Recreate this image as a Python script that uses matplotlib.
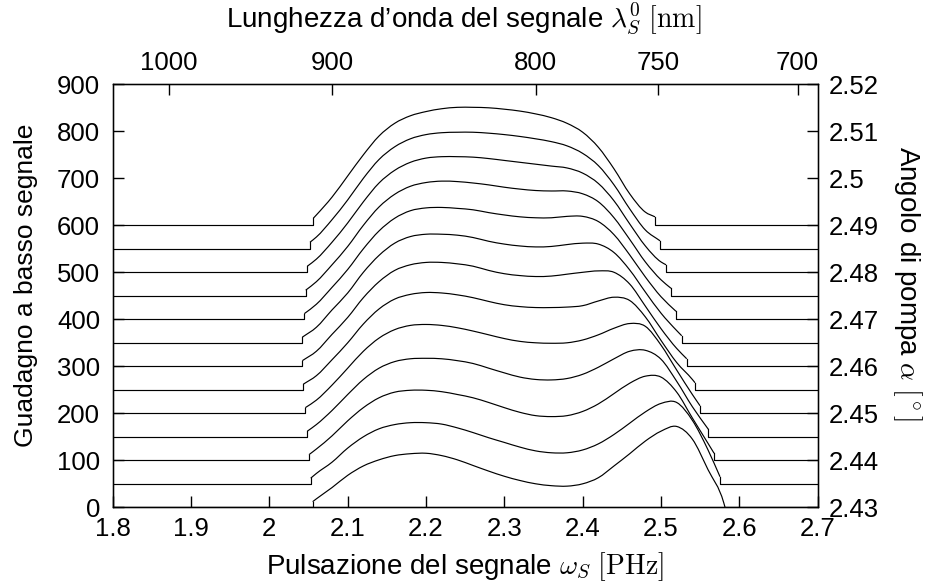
import numpy as np
import matplotlib
matplotlib.use("Agg")
import matplotlib.pyplot as plt
from matplotlib.path import Path
from matplotlib.patches import PathPatch

plt.rcParams['font.family'] = ['Liberation Sans', 'DejaVu Sans']
plt.rcParams['mathtext.fontset'] = 'cm'

nan = np.nan

# signal angular frequency grid [PHz]
omega_grid = [2.06, 2.08, 2.10, 2.12, 2.14, 2.16, 2.18, 2.20, 2.22, 2.24,
              2.26, 2.28, 2.30, 2.32, 2.34, 2.36, 2.38, 2.40, 2.42, 2.44,
              2.46, 2.48, 2.50, 2.52, 2.54, 2.56, 2.58]

# pump angles (deg) -> each curve is drawn shifted by its offset
pump_angle = [2.430, 2.435, 2.440, 2.445, 2.450, 2.455, 2.460,
              2.465, 2.470, 2.475, 2.480, 2.485, 2.490]
offsets = [0, 50, 100, 150, 200, 250, 300, 350, 400, 450, 500, 550, 600]

# small-signal gain above each curve's baseline, read on omega_grid
gain_00 = [18, 42, 68, 88, 101, 110, 114, 115, 110, 101, 89, 77, 66, 57, 50, 46, 45, 50, 63, 88, 114, 141, 162, 172, 145, 80, 10]
gain_01 = [22, 46, 76, 100, 117, 126, 130, 130, 127, 119, 109, 98, 88, 78, 70, 66, 66, 72, 85, 105, 129, 153, 171, 173, 135, 72, nan]
gain_02 = [24, 52, 84, 112, 133, 145, 149, 149, 146, 140, 133, 123, 112, 102, 95, 93, 95, 104, 120, 142, 164, 179, 177, 145, 90, 36, nan]
gain_03 = [26, 56, 90, 122, 146, 160, 166, 167, 166, 162, 156, 146, 136, 127, 122, 121, 124, 133, 148, 166, 182, 184, 165, 118, 64, nan, nan]
gain_04 = [28, 60, 96, 132, 160, 178, 187, 189, 187, 182, 175, 167, 159, 153, 150, 149, 150, 156, 167, 181, 191, 185, 145, 92, 40, nan, nan]
gain_05 = [30, 64, 100, 140, 172, 193, 203, 207, 206, 202, 196, 188, 181, 177, 175, 175, 176, 179, 189, 197, 190, 155, 105, 58, 22, nan, nan]
gain_06 = [32, 68, 104, 146, 180, 204, 216, 221, 221, 218, 213, 204, 197, 193, 191, 192, 196, 200, 203, 200, 175, 128, 80, 38, nan, nan, nan]
gain_07 = [33, 70, 106, 150, 186, 212, 226, 231, 231, 229, 224, 216, 210, 206, 204, 205, 209, 212, 210, 192, 155, 108, 63, 26, nan, nan, nan]
gain_08 = [32, 68, 106, 150, 188, 215, 231, 237, 238, 236, 233, 227, 222, 218, 216, 216, 219, 219, 208, 180, 137, 90, 48, nan, nan, nan, nan]
gain_09 = [30, 66, 105, 150, 189, 216, 233, 241, 244, 243, 240, 236, 231, 227, 224, 223, 223, 217, 200, 166, 120, 72, 34, nan, nan, nan, nan]
gain_10 = [28, 64, 105, 150, 190, 217, 234, 243, 246, 246, 245, 242, 238, 234, 230, 226, 222, 211, 189, 152, 103, 56, 22, nan, nan, nan, nan]
gain_11 = [25, 62, 104, 150, 190, 217, 234, 243, 247, 248, 248, 246, 243, 239, 234, 228, 219, 203, 177, 136, 85, 40, nan, nan, nan, nan, nan]
gain_12 = [22, 60, 105, 150, 190, 217, 233, 242, 248, 251, 251, 250, 247, 243, 237, 229, 217, 198, 166, 120, 67, 28, nan, nan, nan, nan, nan]

# edges of the gain band (small steps visible in the curves)
start_omega = [2.0553, 2.0528, 2.0506, 2.0485, 2.0459, 2.0434, 2.0421,
               2.0421, 2.0446, 2.0464, 2.0485, 2.0519, 2.0561]
start_gain = [12, 12, 12, 12, 12, 12, 12, 12, 12, 12, 13, 14, 15]
end_omega = [2.5817, 2.5753, 2.5677, 2.5604, 2.5498, 2.5434, 2.5328,
             2.5264, 2.5191, 2.5127, 2.5064, 2.4987, 2.4923]
end_gain = [0, 15, 15, 16, 16, 15, 16, 15, 17, 16, 16, 17, 18]

gains = [gain_00, gain_01, gain_02, gain_03, gain_04, gain_05, gain_06,
         gain_07, gain_08, gain_09, gain_10, gain_11, gain_12]

# axes ticks
omega_ticks = [1.8, 1.9, 2.0, 2.1, 2.2, 2.3, 2.4, 2.5, 2.6, 2.7]
omega_labels = ["1.8", "1.9", "2", "2.1", "2.2", "2.3", "2.4", "2.5", "2.6", "2.7"]
gain_ticks = [0, 100, 200, 300, 400, 500, 600, 700, 800, 900]
angle_ticks = [2.43, 2.44, 2.45, 2.46, 2.47, 2.48, 2.49, 2.50, 2.51, 2.52]
angle_labels = ["2.43", "2.44", "2.45", "2.46", "2.47", "2.48", "2.49", "2.5", "2.51", "2.52"]
wavelength_ticks = [1000, 900, 800, 750, 700]
K_conv = 1872.0  # lambda[nm] = K_conv / omega[PHz]


def smooth_path(x, y):
    """Cubic Bezier path through the given points (Hermite tangents)."""
    x = np.asarray(x, float)
    y = np.asarray(y, float)
    n = len(x)
    h = np.diff(x)
    d = np.diff(y) / h
    m = np.empty(n)
    m[0] = d[0]
    m[-1] = d[-1]
    for i in range(1, n - 1):
        m[i] = (d[i - 1] * h[i] + d[i] * h[i - 1]) / (h[i - 1] + h[i])
    verts = [(x[0], y[0])]
    codes = [Path.MOVETO]
    for i in range(n - 1):
        verts += [(x[i] + h[i] / 3, y[i] + m[i] * h[i] / 3),
                  (x[i + 1] - h[i] / 3, y[i + 1] - m[i + 1] * h[i] / 3),
                  (x[i + 1], y[i + 1])]
        codes += [Path.CURVE4] * 3
    return Path(verts, codes)


W, H = 933, 587
fig = plt.figure(figsize=(W / 100, H / 100), dpi=100)
x0, x1, y0, y1 = 112.7, 817.7, 507.3, 84.3
ax = fig.add_axes([x0 / W, 1 - y0 / H, (x1 - x0) / W, (y0 - y1) / H])

lw = 0.85
og = np.array(omega_grid)
for k in range(len(offsets)):
    g = np.array(gains[k], dtype=float)
    off = offsets[k]
    m = np.isfinite(g) & (og > start_omega[k]) & (og < end_omega[k])
    # flat baseline and step at the band start
    ax.plot([1.8, start_omega[k], start_omega[k]],
            [off, off, off + start_gain[k]], color='black', lw=lw)
    # smooth gain curve
    xs = np.concatenate([[start_omega[k]], og[m], [end_omega[k]]])
    ys = np.concatenate([[start_gain[k]], g[m], [end_gain[k]]]) + off
    ax.add_patch(PathPatch(smooth_path(xs, ys), facecolor='none',
                           edgecolor='black', lw=lw))
    # step at the band end and flat baseline
    ax.plot([end_omega[k], end_omega[k], 2.7],
            [off + end_gain[k], off, off], color='black', lw=lw)

fs = 18.5
ax.set_xlim(1.8, 2.7)
ax.set_ylim(0, 900)
ax.set_xticks(omega_ticks)
ax.set_xticklabels(omega_labels)
ax.set_yticks(gain_ticks)
ax.tick_params(axis='both', direction='in', length=8, width=1, labelsize=fs,
               top=False, right=False)
ax.tick_params(axis='x', pad=7)
ax.tick_params(axis='y', pad=9)
for s in ax.spines.values():
    s.set_linewidth(1.0)

axr = ax.twinx()
axr.set_ylim(2.43, 2.52)
axr.set_yticks(angle_ticks)
axr.set_yticklabels(angle_labels)
axr.tick_params(axis='y', direction='in', length=8, width=1, labelsize=fs, pad=8)

axt = ax.twiny()
axt.set_xlim(1.8, 2.7)
axt.set_xticks([K_conv / l for l in wavelength_ticks])
axt.set_xticklabels([str(l) for l in wavelength_ticks])
axt.tick_params(axis='x', direction='in', length=8, width=1, labelsize=fs, pad=7)

lfs = 20
fig.text(465 / W, 1 - 567 / H, r"Pulsazione del segnale $\omega_S$ $[\mathrm{PHz}]$",
         ha='center', va='center', fontsize=lfs)
fig.text(464 / W, 1 - 18 / H, "Lunghezza d\u2019onda del segnale $\\lambda_S^0$ $[\\mathrm{nm}]$",
         ha='center', va='center', fontsize=lfs)
fig.text(26 / W, 1 - 285 / H, "Guadagno a basso segnale", rotation=90,
         ha='center', va='center', fontsize=19)
fig.text(907 / W, 1 - 284 / H, r"Angolo di pompa $\alpha$ $[^\circ]$", rotation=-90,
         ha='center', va='center', fontsize=lfs)

fig.savefig("out.png", dpi=100)
